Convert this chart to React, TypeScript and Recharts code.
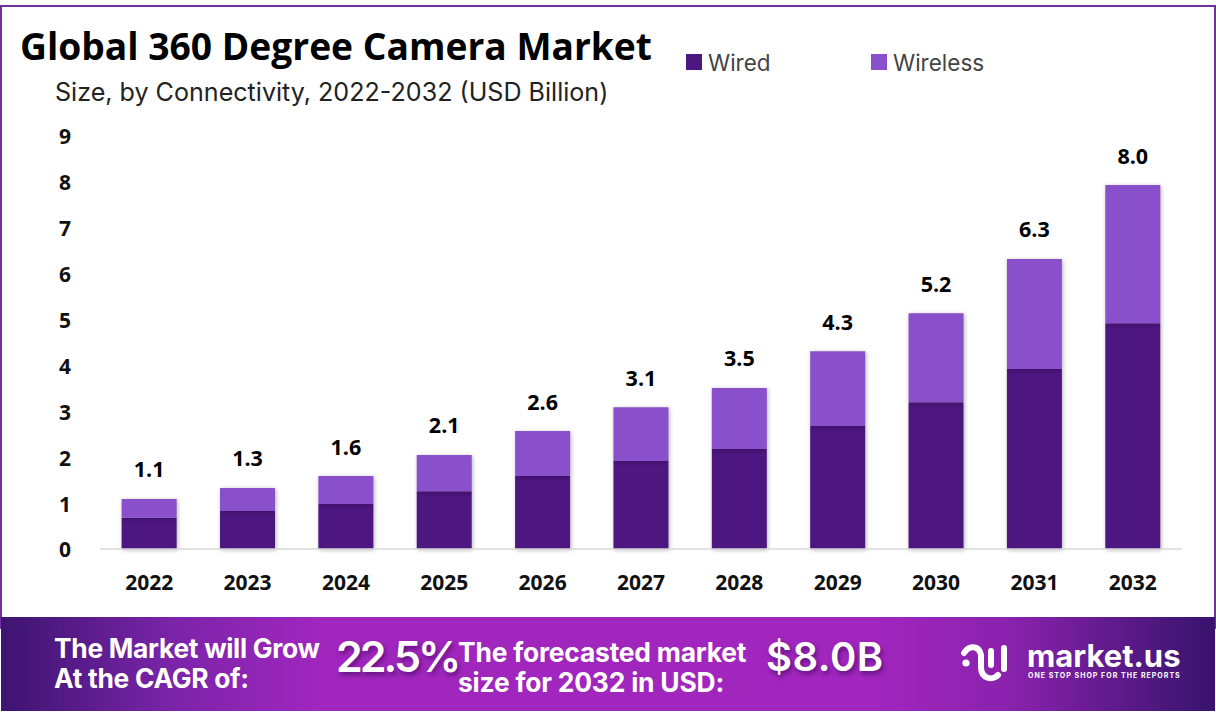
import React from 'react';
import { BarChart, Bar, XAxis, YAxis, LabelList, Legend } from 'recharts';

const YEARS = ['2022', '2023', '2024', '2025', '2026', '2027', '2028', '2029', '2030', '2031', '2032'];
const WIRED = [0.68, 0.83, 0.98, 1.26, 1.59, 1.92, 2.18, 2.68, 3.2, 3.92, 4.92];
const WIRELESS = [0.41, 0.5, 0.61, 0.79, 0.98, 1.17, 1.33, 1.63, 1.94, 2.4, 3.01];
const TOTALS = ['1.1', '1.3', '1.6', '2.1', '2.6', '3.1', '3.5', '4.3', '5.2', '6.3', '8.0'];
const Y_TICKS = [0, 1, 2, 3, 4, 5, 6, 7, 8, 9];

const WIRED_COLOR = '#4e1681';
const WIRELESS_COLOR = '#8a4fcb';
const SANS = '"Open Sans", sans-serif';

const data = YEARS.map((year, i) => ({
  year,
  wired: WIRED[i],
  wireless: WIRELESS[i],
  total: TOTALS[i],
}));

const barShadow = { filter: 'drop-shadow(1px 1px 2px rgba(0,0,0,0.3))' };

const LegendRow = () => (
  <div style={{ position: 'relative', width: 320, height: 30 }}>
    {[
      { name: 'Wired', color: WIRED_COLOR, left: 0 },
      { name: 'Wireless', color: WIRELESS_COLOR, left: 185 },
    ].map(item => (
      <div key={item.name} style={{ position: 'absolute', left: item.left, top: 0, display: 'flex', alignItems: 'center', height: 30 }}>
        <span style={{ width: 16, height: 16, background: item.color, display: 'inline-block', marginRight: 6 }} />
        <span style={{ font: `400 22.5px Inter, sans-serif`, color: '#444' }}>{item.name}</span>
      </div>
    ))}
  </div>
);

const Banner = () => (
  <div style={{
    position: 'absolute', left: 1, top: 617, width: 1214, height: 94,
    background: 'linear-gradient(90deg, #3c1470 0%, #7a24a8 14%, #a026bd 26%, #a026bd 72%, #8a22ad 83%, #3c1470 99%)',
    color: '#fff',
  }}>
    <div style={{ position: 'absolute', left: 53, top: 16, font: `700 26.4px/30px Inter, sans-serif`, letterSpacing: -0.3, whiteSpace: 'nowrap' }}>
      The Market will Grow<br />At the CAGR of:
    </div>
    <div style={{ position: 'absolute', left: 335, top: 12, font: `600 43px/55px Inter, sans-serif`, letterSpacing: -3, textShadow: '2px 3px 4px rgba(40,0,70,0.5)', whiteSpace: 'nowrap' }}>
      22.5%
    </div>
    <div style={{ position: 'absolute', left: 457, top: 20, font: `700 26.4px/30px Inter, sans-serif`, letterSpacing: -0.2, whiteSpace: 'nowrap' }}>
      The forecasted market<br />size for 2032 in USD:
    </div>
    <div style={{ position: 'absolute', left: 765, top: 12, font: `600 40px/55px Inter, sans-serif`, letterSpacing: 0.5, textShadow: '2px 3px 4px rgba(40,0,70,0.5)', whiteSpace: 'nowrap' }}>
      $8.0B
    </div>
    <svg style={{ position: 'absolute', left: 960, top: 26 }} width="56" height="42" viewBox="0 0 56 42">
      <circle cx="5" cy="20" r="3.6" fill="#fff" />
      <path d="M3 10 C8 2 18 2 20 12 L20 24 C20 36 32 38 37 32" fill="none" stroke="#fff" strokeWidth="6" strokeLinecap="round" />
      <path d="M30 8 L30 22" stroke="#fff" strokeWidth="6" strokeLinecap="round" />
      <path d="M43 5 L43 26" stroke="#fff" strokeWidth="6" strokeLinecap="round" />
    </svg>
    <div style={{ position: 'absolute', left: 1026, top: 24, font: `700 31px/30px Inter, sans-serif`, whiteSpace: 'nowrap' }}>market.us</div>
    <div style={{ position: 'absolute', left: 1027, top: 55, font: `700 7px/8px Inter, sans-serif`, letterSpacing: 1.03, whiteSpace: 'nowrap' }}>
      ONE STOP SHOP FOR THE REPORTS
    </div>
  </div>
);

export default function App() {
  return (
    <div style={{ position: 'absolute', left: 0, top: 0, width: 1216, height: 717, background: '#fff', overflow: 'hidden' }}>
      <div style={{ position: 'absolute', left: 0, top: 5, width: 1212, height: 620, border: '2px solid #7030a0' }} />
      <div style={{ position: 'absolute', left: 20, top: 22, font: `700 37.2px/48px ${SANS}`, color: '#000', whiteSpace: 'nowrap' }}>
        Global 360 Degree Camera Market
      </div>
      <div style={{ position: 'absolute', left: 55, top: 75, font: `400 25.1px/34px Inter, sans-serif`, color: '#222', whiteSpace: 'nowrap' }}>
        Size, by Connectivity, 2022-2032 (USD Billion)
      </div>

      <div style={{ position: 'absolute', left: 0, top: 0 }}>
        <BarChart
          width={1216}
          height={617}
          data={data}
          margin={{ top: 136, right: 34, bottom: 8, left: 0 }}
          barCategoryGap="22%"
        >
          <XAxis
            dataKey="year"
            tickLine={false}
            axisLine={{ stroke: '#d9d9d9', strokeWidth: 1.5 }}
            tickMargin={20}
            tick={{ fill: '#111', fontSize: 21, fontWeight: 700, fontFamily: SANS }}
          />
          <YAxis
            width={100}
            domain={[0, 9]}
            ticks={Y_TICKS}
            interval={0}
            tickLine={false}
            axisLine={false}
            tickMargin={23}
            dy={1}
            tick={{ fill: '#111', fontSize: 21, fontWeight: 700, fontFamily: SANS }}
          />
          <Legend
            content={<LegendRow />}
            wrapperStyle={{ position: 'absolute', left: 686, top: 47, width: 320 }}
          />
          <Bar dataKey="wired" name="Wired" stackId="a" fill={WIRED_COLOR} isAnimationActive={false} style={barShadow} />
          <Bar dataKey="wireless" name="Wireless" stackId="a" fill={WIRELESS_COLOR} isAnimationActive={false} style={barShadow}>
            <LabelList dataKey="total" position="top" offset={21.5} fill="#000" fontSize={21.5} fontWeight={700} fontFamily={SANS} />
          </Bar>
        </BarChart>
      </div>

      <Banner />
    </div>
  );
}
